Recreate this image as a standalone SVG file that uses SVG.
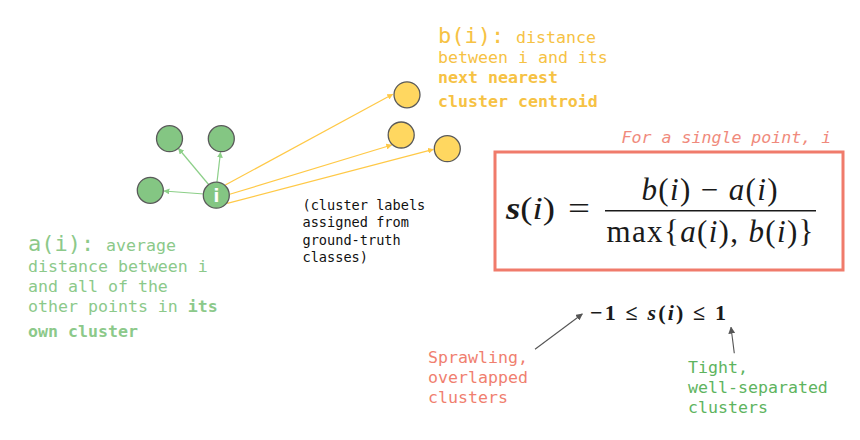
<svg xmlns="http://www.w3.org/2000/svg" width="860" height="440" viewBox="0 0 860 440">
<style>
.mono{font-family:"DejaVu Sans Mono","Liberation Mono",monospace;}
.big{font-size:22px;}
.body{font-size:16.6px;}
.b{font-weight:bold;}
.yel{fill:#f6c244;}
.grn{fill:#8cc98a;}
.gnode{fill:#84c683;stroke:#5a5a5a;stroke-width:1.3;}
.ynode{fill:#ffd760;stroke:#5a5a5a;stroke-width:1.3;}
.gline{stroke:#8ccf88;stroke-width:1.2;fill:none;}
.yline{stroke:#ffc947;stroke-width:1.2;fill:none;}
.kline{stroke:#555;stroke-width:1.1;fill:none;}
.math{font-family:"Liberation Serif","DejaVu Serif",serif;fill:#1a1a1a;}
.it{font-style:italic;}
</style>
<defs>
<marker id="ag" viewBox="0 0 10 10" refX="9" refY="5" markerWidth="6" markerHeight="6" markerUnits="userSpaceOnUse" orient="auto"><path d="M0,0 L10,5 L0,10 z" fill="#8ccf88"/></marker>
<marker id="ay" viewBox="0 0 10 10" refX="9" refY="5" markerWidth="6" markerHeight="6" markerUnits="userSpaceOnUse" orient="auto"><path d="M0,0 L10,5 L0,10 z" fill="#ffc947"/></marker>
<marker id="ak" viewBox="0 0 10 10" refX="9" refY="5" markerWidth="7" markerHeight="7" markerUnits="userSpaceOnUse" orient="auto"><path d="M0,0 L10,5 L0,10 z" fill="#555"/></marker>
</defs>
<rect width="860" height="440" fill="#ffffff"/>

<g id="connectors">
<line class="gline" x1="204" y1="194" x2="164" y2="191" marker-end="url(#ag)"/>
<line class="gline" x1="209" y1="185" x2="178.5" y2="148.5" marker-end="url(#ag)"/>
<line class="gline" x1="217" y1="182" x2="220.5" y2="152.3" marker-end="url(#ag)"/>
<line class="yline" x1="225.3" y1="185" x2="392.7" y2="94.3" marker-end="url(#ay)"/>
<line class="yline" x1="229.7" y1="194.3" x2="391.7" y2="145" marker-end="url(#ay)"/>
<line class="yline" x1="227.3" y1="203.3" x2="433.3" y2="149.3" marker-end="url(#ay)"/>
<line class="kline" x1="535" y1="349.3" x2="582.3" y2="314" marker-end="url(#ak)"/>
<line class="kline" x1="734.3" y1="353.3" x2="731" y2="327.3" marker-end="url(#ak)"/>
</g>

<g id="node-g1"><circle class="gnode" cx="169.5" cy="138.7" r="13"/></g>
<g id="node-g2"><circle class="gnode" cx="221.3" cy="138.7" r="13"/></g>
<g id="node-g3"><circle class="gnode" cx="150.3" cy="190.3" r="13"/></g>
<g id="node-i"><circle class="gnode" cx="216.3" cy="195.2" r="13"/>
<text x="216.3" y="201.5" text-anchor="middle" font-family="DejaVu Sans,sans-serif" font-weight="bold" font-size="17" fill="#ffffff">i</text></g>
<g id="node-y1"><circle class="ynode" cx="407" cy="94.8" r="13"/></g>
<g id="node-y2"><circle class="ynode" cx="401.2" cy="135" r="13"/></g>
<g id="node-y3"><circle class="ynode" cx="447.3" cy="148.7" r="13"/></g>

<g id="label-b" class="mono yel">
<text x="438" y="43" class="big">b(i):</text>
<text x="516" y="43" class="body">distance</text>
<text x="438" y="63.3" class="body">between i and its</text>
<text x="438" y="83.3" class="body b">next nearest</text>
<text x="438" y="107.3" class="body b">cluster centroid</text>
</g>

<g id="label-a" class="mono grn">
<text x="28" y="251" class="big">a(i):</text>
<text x="106" y="251" class="body">average</text>
<text x="28" y="271.7" class="body">distance between i</text>
<text x="28" y="291.7" class="body">and all of the</text>
<text x="28" y="312.3" class="body">other points in <tspan class="b">its</tspan></text>
<text x="28" y="336.7" class="body b">own cluster</text>
</g>

<g id="label-note" class="mono" font-size="13.6" fill="#111">
<text x="302.5" y="210">(cluster labels</text>
<text x="302.5" y="227.3">assigned from</text>
<text x="302.5" y="244.5">ground-truth</text>
<text x="302.5" y="261.7">classes)</text>
</g>

<g id="label-single">
<text x="621.5" y="142.7" class="mono body" font-style="italic" fill="#f08a7c">For a single point, i</text>
</g>

<g id="formula-box">
<rect x="495" y="152" width="348" height="118" fill="#ffffff" stroke="#f07b6b" stroke-width="3"/>
<text x="506" y="219" class="math" font-size="31" textLength="49" lengthAdjust="spacingAndGlyphs"><tspan class="it" font-weight="bold">s</tspan>(<tspan class="it">i</tspan>)</text>
<text x="568" y="219" class="math" font-size="31" textLength="22" lengthAdjust="spacingAndGlyphs">=</text>
<text x="641.5" y="200" class="math" font-size="31" textLength="136" lengthAdjust="spacing"><tspan class="it">b</tspan>(<tspan class="it">i</tspan>) − <tspan class="it">a</tspan>(<tspan class="it">i</tspan>)</text>
<line x1="605" y1="210.7" x2="816" y2="210.7" stroke="#1a1a1a" stroke-width="1.6"/>
<text x="606.5" y="241.7" class="math" font-size="31" textLength="207" lengthAdjust="spacing">max{<tspan class="it">a</tspan>(<tspan class="it">i</tspan>), <tspan class="it">b</tspan>(<tspan class="it">i</tspan>)}</text>
</g>

<g id="range">
<text x="590" y="319.5" class="math" font-size="22" font-weight="bold" textLength="136" lengthAdjust="spacing">−1 ≤ <tspan class="it">s</tspan>(<tspan class="it">i</tspan>) ≤ 1</text>
</g>

<g id="label-sprawl" class="mono body" fill="#f07f6f">
<text x="428" y="363.3">Sprawling,</text>
<text x="428" y="383.3">overlapped</text>
<text x="428" y="403.3">clusters</text>
</g>

<g id="label-tight" class="mono body" fill="#5eb45e">
<text x="688" y="373.3">Tight,</text>
<text x="688" y="393.3">well-separated</text>
<text x="688" y="413.3">clusters</text>
</g>
</svg>
